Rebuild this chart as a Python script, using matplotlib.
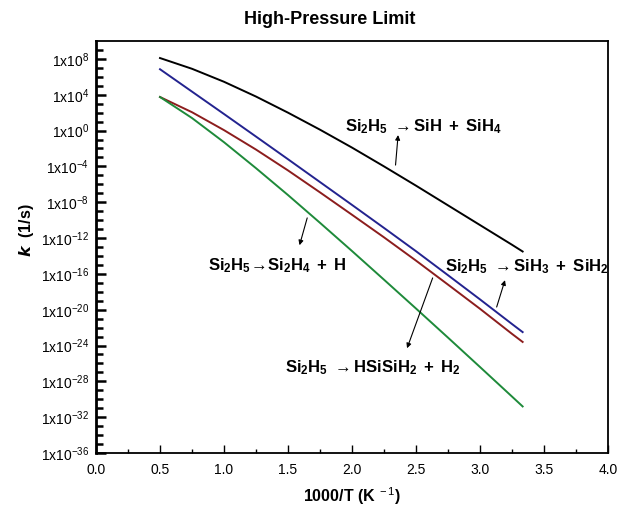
import numpy as np
import matplotlib
matplotlib.use("Agg")
import matplotlib.pyplot as plt
from matplotlib.ticker import FixedLocator, FuncFormatter, MultipleLocator

plt.rcParams['font.family'] = ['Liberation Sans', 'DejaVu Sans']
plt.rcParams['mathtext.fontset'] = 'custom'
plt.rcParams['mathtext.rm'] = 'Liberation Sans'
plt.rcParams['mathtext.bf'] = 'Liberation Sans:bold'
plt.rcParams['mathtext.it'] = 'Liberation Sans:italic'

# 1000/T grid (K^-1) and log10 of the high-pressure rate constants
inv_T = [0.5, 0.75, 1.0, 1.25, 1.5, 1.75, 2.0, 2.25, 2.5, 2.75, 3.0, 3.25, 3.333]
log_k_sih_sih4 = [8.1, 6.9, 5.45, 3.8, 2.0, 0.1, -1.9, -4.0, -6.15, -8.35, -10.55, -12.75, -13.5]
log_k_sih3_sih2 = [6.85, 4.35, 1.85, -0.67, -3.2, -5.75, -8.3, -10.87, -13.47, -16.15, -18.85, -21.6, -22.5]
log_k_hsisih2_h2 = [3.75, 2.05, 0.05, -2.12, -4.45, -6.9, -9.4, -11.92, -14.52, -17.2, -19.9, -22.7, -23.6]
log_k_si2h4_h = [3.75, 1.4, -1.3, -4.2, -7.2, -10.3, -13.45, -16.65, -19.87, -23.12, -26.4, -29.7, -30.8]

fig = plt.figure(figsize=(6.21, 5.09), dpi=100)
ax = fig.add_axes([0.1546, 0.110, 0.8245, 0.8094])

ax.semilogy(inv_T, 10.0 ** np.array(log_k_sih_sih4), color='black', lw=1.4)
ax.semilogy(inv_T, 10.0 ** np.array(log_k_sih3_sih2), color='#23238f', lw=1.4)
ax.semilogy(inv_T, 10.0 ** np.array(log_k_hsisih2_h2), color='#8c1d1d', lw=1.4)
ax.semilogy(inv_T, 10.0 ** np.array(log_k_si2h4_h), color='#1e8a3a', lw=1.4)

ax.set_xlim(0, 4.0)
ax.set_ylim(1e-36, 1e10)

ax.xaxis.set_major_locator(MultipleLocator(0.5))
ax.xaxis.set_minor_locator(MultipleLocator(0.25))
ax.yaxis.set_major_locator(FixedLocator([10.0 ** e for e in range(-36, 9, 4)]))
ax.yaxis.set_minor_locator(FixedLocator([10.0 ** e for e in range(-36, 10)]))
ax.yaxis.set_minor_formatter(FuncFormatter(lambda v, p: ''))
ax.yaxis.set_major_formatter(
    FuncFormatter(lambda v, p: r'1x10$^{%d}$' % int(round(np.log10(v)))))

ax.tick_params(which='both', direction='in', top=False, right=False,
               labelsize=10, color='black')
ax.tick_params(axis='x', which='major', length=6, width=1.0, pad=7)
ax.tick_params(axis='x', which='minor', length=3, width=1.0)
ax.tick_params(axis='y', which='major', length=7, width=1.8, pad=5)
ax.tick_params(axis='y', which='minor', length=5, width=1.8)
for sp in ax.spines.values():
    sp.set_linewidth(1.3)
ax.spines['left'].set_linewidth(2.0)

ax.set_xlabel(r'1000/T (K$^{\ -1}$)', fontsize=11.5, fontweight='bold', labelpad=6)
fig.text(26 / 621, 1 - 230 / 509, r'$\boldsymbol{k}$  (1/s)', rotation=90,
         ha='center', va='center', fontsize=11.5, fontweight='bold')
fig.text(330 / 621, 1 - 20 / 509, 'High-Pressure Limit', ha='center', va='center',
         fontsize=13, fontweight='bold')

# reaction labels
lab = dict(fontsize=12, ha='left', va='baseline')
ax.text(1.945, 10 ** -0.05, r'$\mathbf{Si_2H_5\ \rightarrow SiH\ +\ SiH_4}$', **lab)
ax.text(0.875, 10 ** -15.65, r'$\mathbf{Si_2H_5\!\rightarrow\! Si_2H_4\ +\ H}$', **lab)
ax.text(2.727, 10 ** -15.75, r'$\mathbf{Si_2H_5\ \rightarrow SiH_3\ +\ SiH_2}$', **lab)
ax.text(1.477, 10 ** -26.95, r'$\mathbf{Si_2H_5\ \rightarrow HSiSiH_2\ +\ H_2}$', **lab)

# pointer arrows from the curves to their labels
arr = dict(arrowstyle='-|>', lw=0.8, color='black', mutation_scale=7, shrinkA=0, shrinkB=0)
ax.annotate('', xy=(2.36, 10 ** -0.5), xytext=(2.34, 10 ** -3.85), arrowprops=arr)
ax.annotate('', xy=(1.59, 10 ** -12.8), xytext=(1.65, 10 ** -9.75), arrowprops=arr)
ax.annotate('', xy=(3.195, 10 ** -16.7), xytext=(3.13, 10 ** -19.7), arrowprops=arr)
ax.annotate('', xy=(2.43, 10 ** -24.3), xytext=(2.63, 10 ** -16.45), arrowprops=arr)

fig.savefig('out.png', dpi=100)
